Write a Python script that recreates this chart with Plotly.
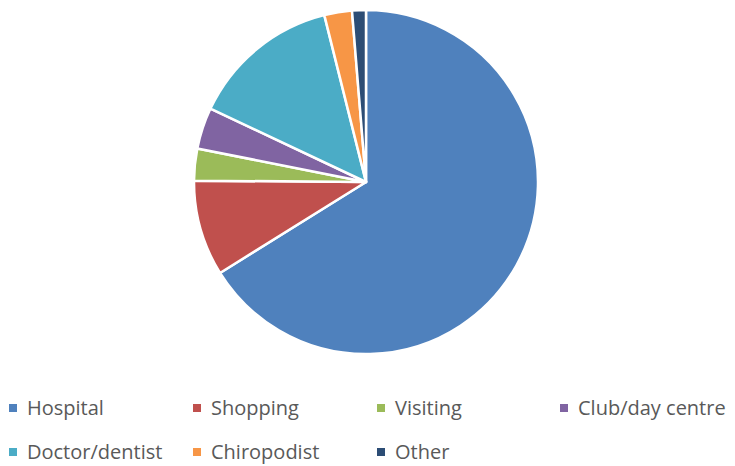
import plotly.graph_objects as go

# Journey purposes and their shares (%)
purposes = ["Hospital", "Shopping", "Visiting", "Club/day centre",
            "Doctor/dentist", "Chiropodist", "Other"]
shares = [66.2, 9.0, 3.0, 3.9, 14.1, 2.6, 1.3]
colors = ["#4F81BD", "#C0504D", "#9BBB59", "#8064A2",
          "#4BACC6", "#F79646", "#2C4D75"]

W, H = 735, 466
cx, cy, r = 366, 182, 172

fig = go.Figure(go.Pie(
    labels=purposes,
    values=shares,
    sort=False,
    direction="clockwise",
    rotation=0,
    textinfo="none",
    hoverinfo="label+percent",
    showlegend=False,
    marker=dict(colors=colors, line=dict(color="white", width=2.5)),
    domain=dict(x=[(cx - r) / W, (cx + r) / W],
                y=[1 - (cy + r) / H, 1 - (cy - r) / H]),
))

# Legend laid out as a 4-column grid below the pie (pixel positions)
col_x = [9, 193, 377, 560]
row_y = [408, 452]
box = 8
for i, (name, col) in enumerate(zip(purposes, colors)):
    x0 = col_x[i % 4]
    yc = row_y[i // 4]
    fig.add_shape(
        type="rect", xref="paper", yref="paper",
        x0=x0 / W, x1=(x0 + box) / W,
        y0=1 - (yc + box / 2) / H, y1=1 - (yc - box / 2) / H,
        fillcolor=col, line=dict(width=0),
    )
    fig.add_annotation(
        x=(x0 + 16) / W, y=1 - (yc - 1) / H,
        xref="paper", yref="paper",
        xanchor="left", yanchor="middle",
        text=name, showarrow=False,
        font=dict(family="Open Sans", size=20, color="#595959"),
    )

fig.update_layout(
    width=W, height=H,
    margin=dict(l=0, r=0, t=0, b=0),
    paper_bgcolor="white",
    plot_bgcolor="white",
    font=dict(family="Open Sans", color="#595959"),
)

fig.write_html("out.html")
